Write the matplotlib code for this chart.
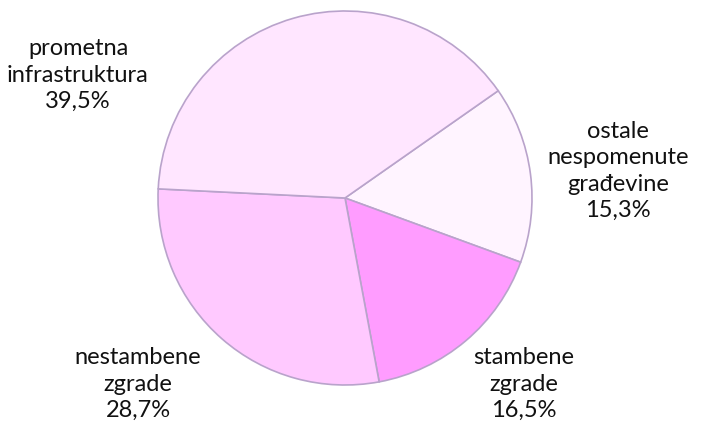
import matplotlib.pyplot as plt

labels = ['ostale\nnespomenute\ngrađevine', 'stambene\nzgrade', 'nestambene\nzgrade', 'prometna\ninfrastruktura']
shares = [15.3, 16.5, 28.7, 39.5]
colors = ['#FFF4FF', '#FF9CFF', '#FFC9FF', '#FFE6FF']
# label anchor points in pixels (x, y from top)
label_px = [(618, 171), (524, 384), (138, 384), (78, 75)]

W, H = 705, 432
cx, cy, r = 345, 198, 187

fig = plt.figure(figsize=(W / 100, H / 100), dpi=100)
ax = fig.add_axes([0, 0, 1, 1])

ax.pie(shares, colors=colors, startangle=35, counterclock=False,
       wedgeprops=dict(edgecolor='#B9A3CB', linewidth=1.2))

ax.set_xlim(-cx / r, (W - cx) / r)
ax.set_ylim((cy - H) / r, cy / r)
ax.set_aspect('equal')
ax.axis('off')

for lab, val, (px, py) in zip(labels, shares, label_px):
    txt = lab + '\n' + ('%.1f%%' % val).replace('.', ',')
    ax.text((px - cx) / r, (cy - py) / r, txt, ha='center', va='center',
            fontsize=17, family='Lato', linespacing=1.3, color='#111111')

fig.savefig('out.png', dpi=100)
